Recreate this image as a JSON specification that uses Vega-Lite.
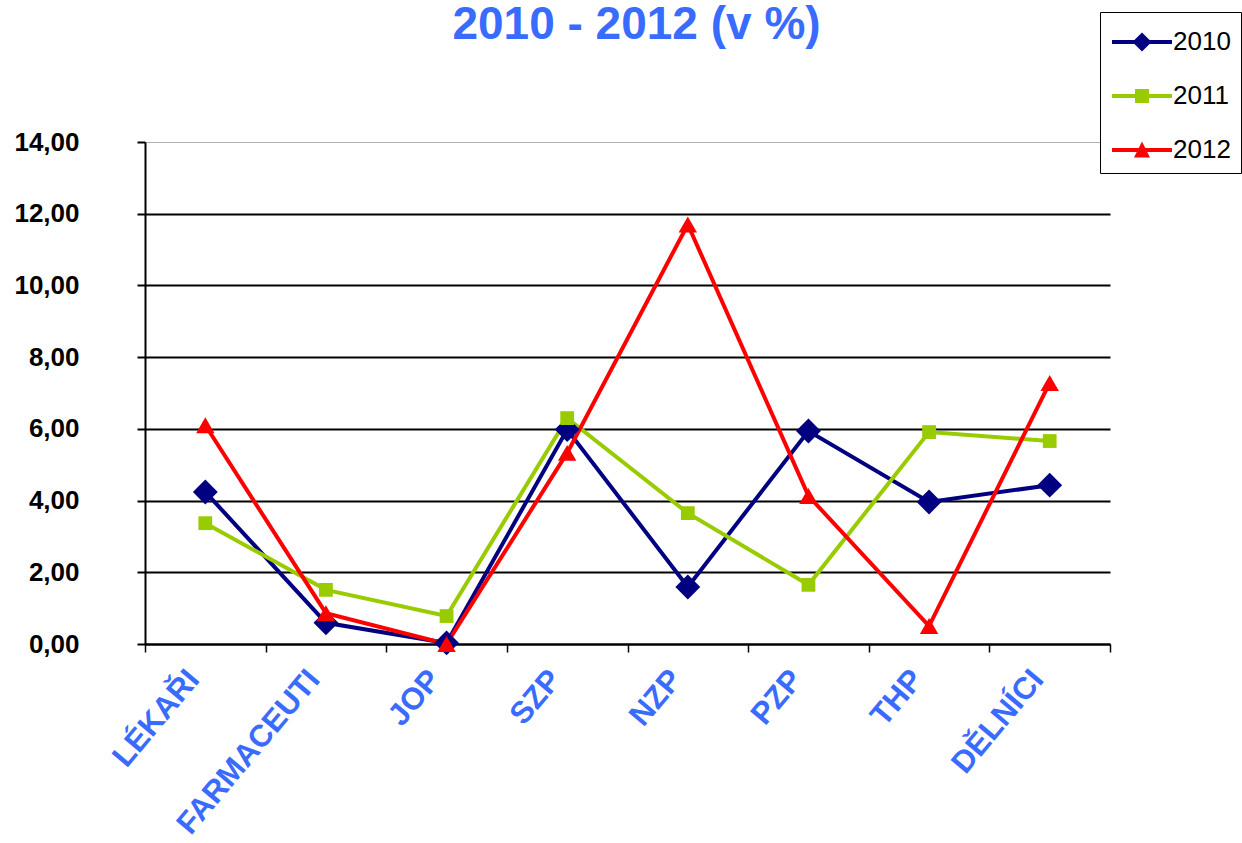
{
  "$schema": "https://vega.github.io/schema/vega-lite/v6.json",
  "width": 965,
  "height": 502,
  "autosize": "none",
  "padding": {"left": 145, "top": 142, "right": 132, "bottom": 199},
  "background": "white",
  "title": {
    "text": "2010 - 2012 (v %)",
    "anchor": "middle",
    "frame": "group",
    "orient": "top",
    "font": "Liberation Sans",
    "fontSize": 46,
    "fontWeight": "bold",
    "color": "#3A6BFF",
    "baseline": "alphabetic",
    "offset": -73,
    "dx": 9
  },
  "data": {
    "values": [
      {"cat": "LÉKAŘI", "year": "2010", "v": 4.24},
      {"cat": "FARMACEUTI", "year": "2010", "v": 0.59},
      {"cat": "JOP", "year": "2010", "v": 0.03},
      {"cat": "SZP", "year": "2010", "v": 5.98},
      {"cat": "NZP", "year": "2010", "v": 1.59},
      {"cat": "PZP", "year": "2010", "v": 5.94},
      {"cat": "THP", "year": "2010", "v": 3.96},
      {"cat": "DĚLNÍCI", "year": "2010", "v": 4.43},
      {"cat": "LÉKAŘI", "year": "2011", "v": 3.37},
      {"cat": "FARMACEUTI", "year": "2011", "v": 1.51},
      {"cat": "JOP", "year": "2011", "v": 0.78},
      {"cat": "SZP", "year": "2011", "v": 6.3},
      {"cat": "NZP", "year": "2011", "v": 3.65},
      {"cat": "PZP", "year": "2011", "v": 1.65},
      {"cat": "THP", "year": "2011", "v": 5.91},
      {"cat": "DĚLNÍCI", "year": "2011", "v": 5.66},
      {"cat": "LÉKAŘI", "year": "2012", "v": 6.1},
      {"cat": "FARMACEUTI", "year": "2012", "v": 0.86},
      {"cat": "JOP", "year": "2012", "v": 0.0},
      {"cat": "SZP", "year": "2012", "v": 5.33},
      {"cat": "NZP", "year": "2012", "v": 11.7},
      {"cat": "PZP", "year": "2012", "v": 4.13},
      {"cat": "THP", "year": "2012", "v": 0.5},
      {"cat": "DĚLNÍCI", "year": "2012", "v": 7.28}
    ]
  },
  "encoding": {
    "x": {
      "field": "cat",
      "type": "nominal",
      "sort": null,
      "scale": {"type": "band", "paddingInner": 0, "paddingOuter": 0},
      "axis": {
        "title": null,
        "domainColor": "black",
        "domainWidth": 2,
        "tickColor": "black",
        "tickWidth": 1.5,
        "tickSize": 8,
        "tickBand": "extent",
        "labelAngle": -50,
        "labelAlign": "right",
        "labelBaseline": "middle",
        "labelFont": "Liberation Sans",
        "labelFontSize": 31,
        "labelFontWeight": "bold",
        "labelColor": "#3A6BFF",
        "labelPadding": 22,
        "labelOffset": -12,
        "labelLimit": 0,
        "grid": false
      }
    },
    "y": {
      "field": "v",
      "type": "quantitative",
      "scale": {"domain": [0, 14], "nice": false},
      "axis": {
        "title": null,
        "values": [0, 2, 4, 6, 8, 10, 12, 14],
        "labelExpr": "replace(format(datum.value, '.2f'), '.', ',')",
        "labelFont": "Liberation Sans",
        "labelFontSize": 26,
        "labelFontWeight": "bold",
        "labelColor": "black",
        "labelPadding": 58,
        "domainColor": "black",
        "domainWidth": 2,
        "tickColor": "black",
        "tickWidth": 2,
        "tickSize": 8,
        "grid": true,
        "gridColor": {"condition": {"test": "datum.value == 14", "value": "#b0b0b0"}, "value": "black"},
        "gridWidth": {"condition": {"test": "datum.value == 14", "value": 1}, "value": 2},
        "gridOpacity": 1
      }
    },
    "color": {
      "field": "year",
      "type": "nominal",
      "scale": {"domain": ["2010", "2011", "2012"], "range": ["#000080", "#99CC00", "#FF0000"]},
      "legend": {
        "title": null,
        "orient": "none",
        "legendX": 955,
        "legendY": -130,
        "padding": 10,
        "strokeColor": "black",
        "fillColor": "white",
        "symbolSize": 1600,
        "symbolStrokeWidth": 0,
        "symbolOpacity": 1,
        "rowPadding": 21,
        "labelFont": "Liberation Sans",
        "labelFontSize": 26,
        "labelColor": "black",
        "labelOffset": 23
      }
    }
  },
  "layer": [
    {
      "mark": {"type": "line", "strokeWidth": 4},
      "encoding": {
        "detail": {"field": "year"}
      }
    },
    {
      "transform": [{"filter": "datum.year == '2010'"}],
      "mark": {"type": "point", "filled": true, "opacity": 1, "shape": "diamond", "size": 620}
    },
    {
      "transform": [{"filter": "datum.year == '2011'"}],
      "mark": {"type": "point", "filled": true, "opacity": 1, "shape": "square", "size": 190}
    },
    {
      "transform": [{"filter": "datum.year == '2012'"}],
      "mark": {"type": "point", "filled": true, "opacity": 1, "shape": "triangle-up", "size": 340}
    },
    {
      "transform": [{"filter": "datum.v < -100"}],
      "mark": {"type": "point", "filled": true, "opacity": 1, "strokeWidth": 0},
      "encoding": {
        "shape": {
          "field": "year",
          "type": "nominal",
          "scale": {
            "domain": ["2010", "2011", "2012"],
            "range": [
              "M-0.9,-0.1H2.1V0.1H-0.9ZM0.6,-0.48L1.08,0L0.6,0.48L0.12,0Z",
              "M-0.9,-0.1H2.1V0.1H-0.9ZM0.25,-0.35H0.95V0.35H0.25Z",
              "M-0.9,-0.1H2.1V0.1H-0.9ZM0.6,-0.42L1.0,0.38H0.2Z"
            ]
          }
        }
      }
    }
  ],
  "config": {
    "view": {"stroke": null},
    "axis": {"labelOverlap": false}
  }
}
